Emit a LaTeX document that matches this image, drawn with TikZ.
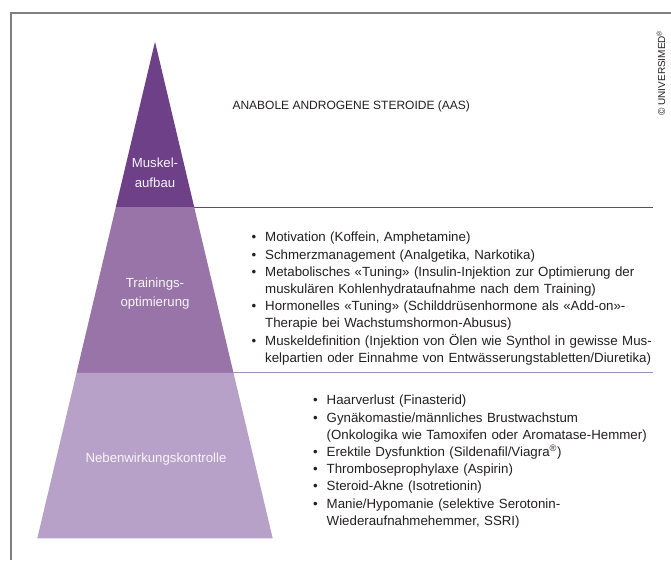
\documentclass[tikz,border=0pt]{standalone}
\usepackage{fontspec}
\setmainfont{Liberation Sans}
\usetikzlibrary{calc,positioning}
\definecolor{aasdark}{RGB}{110,64,135}
\definecolor{aasmid}{RGB}{152,116,168}
\definecolor{aaslight}{RGB}{184,161,201}
\definecolor{aasline}{RGB}{168,138,187}
\definecolor{aastext}{RGB}{35,31,32}
\newcommand{\bul}{\par\noindent\hangindent=13.5pt\hangafter=1\strut\makebox[13.5pt][l]{\textbullet}}
\begin{document}
\begin{tikzpicture}[x=1pt,y=-1pt,
    level/.style={text=white!93!aasmid,align=center,inner sep=0pt,font=\fontsize{13.2}{19.5}\selectfont},
    druglist/.style={anchor=north west,inner sep=0pt,text width=420pt,align=left,text=aastext,font=\fontsize{13.3}{17.2}\selectfont},
    sepline/.style={line width=1.2pt},
    frame/.style={draw=black!50,line width=1.3pt}]
	\useasboundingbox (0,0) rectangle (671,560);
	\draw[frame] (671,13) -| (11,560);
	% pyramid, cut into three bands of equal height
	\coordinate (top) at (155,41.7);
	\coordinate (bl) at (37.3,538.3);
	\coordinate (br) at (272.7,538.3);
	\coordinate (l1) at ($(top)!1/3!(bl)$);
	\coordinate (r1) at ($(top)!1/3!(br)$);
	\coordinate (l2) at ($(top)!2/3!(bl)$);
	\coordinate (r2) at ($(top)!2/3!(br)$);
	\coordinate (edge) at (653,0);
	\fill[aasdark] (top) -- (r1) -- (l1) -- cycle;
	\fill[aasmid] (l1) -- (r1) -- (r2) -- (l2) -- cycle;
	\fill[aaslight] (l2) -- (r2) -- (br) -- (bl) -- cycle;
	\draw[sepline,aasdark] (r1) -- (r1 -| edge);
	\draw[sepline,aasline] (r2) -- (r2 -| edge);
	\node (muskel) [level] at (155,173) {Muskel-\\aufbau};
	\node (training) [level] at (155,293.8) {Trainings-\\optimierung};
	\node (neben) [level] at (156,459) {Nebenwirkungskontrolle};
	\node (aas) [anchor=base west,text=aastext,font=\fontsize{12}{14}\selectfont] at (229,109.5) {ANABOLE ANDROGENE STEROIDE (AAS)};
	\node (tuning) [druglist] at (251.5,224.5) {%
		\bul Motivation (Koffein, Amphetamine)
		\bul Schmerzmanagement (Analgetika, Narkotika)
		\bul Metabolisches «Tuning» (Insulin-Injektion zur Optimierung der\newline muskulären Kohlenhydrataufnahme nach dem Training)
		\bul Hormonelles «Tuning» (Schilddrüsenhormone als «Add-on»-\newline Therapie bei Wachstumshormon-Abusus)
		\bul Muskeldefinition (Injektion von Ölen wie Synthol in gewisse Mus-\newline kelpartien oder Einnahme von Entwässerungstabletten/Diuretika)\par};
	\node (kontrolle) [druglist] at (313,387.5) {%
		\bul Haarverlust (Finasterid)
		\bul Gynäkomastie/männliches Brustwachstum\newline (Onkologika wie Tamoxifen oder Aromatase-Hemmer)
		\bul Erektile Dysfunktion (Sildenafil/Viagra\textsuperscript{®})
		\bul Thromboseprophylaxe (Aspirin)
		\bul Steroid-Akne (Isotretionin)
		\bul Manie/Hypomanie (selektive Serotonin-\newline Wiederaufnahmehemmer, SSRI)\par};
	\node (copy) [rotate=90,text=aastext,font=\fontsize{10}{12}\selectfont] at (661,73) {© UNIVERSIMED\textsuperscript{®}};
\end{tikzpicture}
\end{document}
